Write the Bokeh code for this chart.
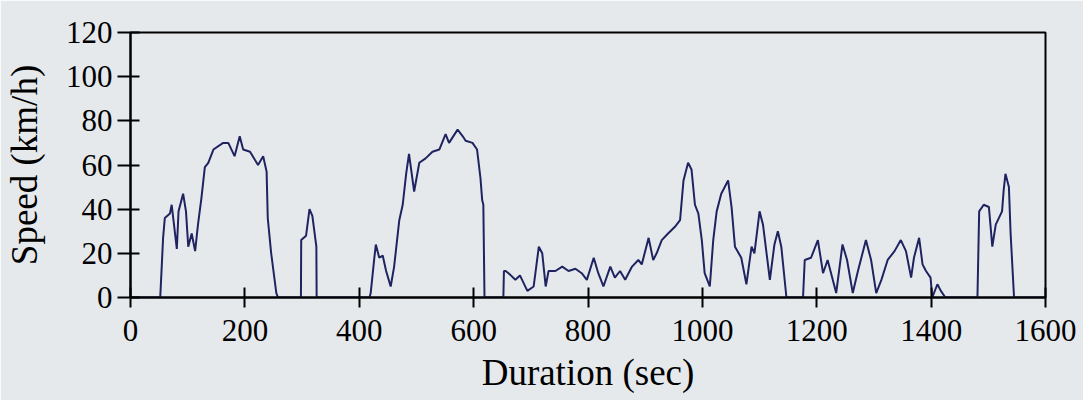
from bokeh.plotting import figure
from bokeh.embed import file_html
from bokeh.resources import INLINE
from bokeh.models import FixedTicker, ColumnDataSource

time_s = [0, 52, 57, 60, 69, 72, 81, 84, 92, 97, 101, 107, 113, 118, 124, 130, 136, 145, 162, 171,
          182, 191, 197, 209, 223, 232, 238, 240, 246, 255, 258,
          298, 298.5, 307, 313, 318, 325, 325.5,
          418, 420, 426, 429, 435, 441, 447, 455, 461, 470, 476, 482, 487, 496, 505, 516, 528, 540,
          551, 557, 572, 581, 586, 598, 606, 612, 615, 617, 619,
          652, 653, 656, 661, 673, 681, 694, 705, 714, 720, 726, 731, 743, 755, 766, 778, 789, 798,
          810, 818, 827, 839, 847, 856, 865, 877, 888, 894, 906, 914, 920, 929, 940, 952, 961, 967,
          975, 981, 987, 993, 999, 1004, 1013, 1019, 1025, 1033, 1045, 1051, 1057, 1068, 1077, 1086,
          1091, 1100, 1106, 1118, 1126, 1132, 1138, 1147,
          1176, 1179, 1190, 1202, 1211, 1219, 1234, 1245, 1253, 1263, 1272, 1286, 1295, 1304, 1313,
          1324, 1336, 1347, 1356, 1365, 1370, 1379, 1385, 1391, 1399, 1402, 1411, 1417, 1425,
          1481, 1484, 1492, 1501, 1507, 1513, 1524, 1527, 1530, 1536, 1539, 1545, 1600]
speed_kmh = [0, 0, 27, 36, 38, 42, 22, 39, 47, 39, 23, 29, 21, 33, 45, 59, 61, 67, 70, 70,
             64, 73, 67, 66, 60, 64, 57, 36, 20, 2, 0,
             0, 26, 28, 40, 37, 23, 0,
             0, 2, 17, 24, 18, 19, 12, 5, 14, 35, 42, 56, 65, 48, 61, 63, 66, 67,
             74, 70, 76, 73, 71, 70, 67, 54, 44, 42, 0,
             0, 12, 12, 11, 8, 10, 3, 5, 23, 20, 5, 12, 12, 14, 12, 13, 11, 8,
             18, 11, 5, 14, 9, 12, 8, 14, 17, 15, 27, 17, 20, 26, 29, 32, 35, 53,
             61, 58, 42, 38, 26, 11, 5, 26, 39, 47, 53, 41, 23, 18, 6, 23,
             20, 39, 33, 8, 24, 30, 23, 0,
             0, 17, 18, 26, 11, 17, 2, 24, 17, 2, 12, 26, 17, 2, 8,
             17, 21, 26, 21, 9, 18, 27, 15, 12, 9, 0, 6, 3, 0,
             0, 39, 42, 41, 23, 33, 39, 49, 56, 50, 29, 0, 0]

x_ticks = [0, 200, 400, 600, 800, 1000, 1200, 1400, 1600]
y_ticks = [0, 20, 40, 60, 80, 100, 120]

BG = "#e6e9ec"
FONT = "Liberation Serif"

src = ColumnDataSource(data=dict(t=time_s, v=speed_kmh))

p = figure(width=1083, height=400, x_range=(0, 1600), y_range=(0, 120),
           output_backend="svg", toolbar_location=None,
           min_border_left=127, min_border_right=38, min_border_top=32, min_border_bottom=103)
p.background_fill_color = BG
p.border_fill_color = BG
p.outline_line_color = "black"
p.outline_line_width = 2
p.grid.visible = False

p.line("t", "v", source=src, line_color="#1f2460", line_width=2)

p.xaxis.ticker = FixedTicker(ticks=x_ticks)
p.yaxis.ticker = FixedTicker(ticks=y_ticks)
for ax in (p.xaxis[0], p.yaxis[0]):
    ax.axis_line_color = "black"
    ax.axis_line_width = 2
    ax.major_tick_line_color = "black"
    ax.major_tick_line_width = 2
    ax.minor_tick_line_color = None
    ax.major_label_text_font = FONT
    ax.major_label_text_font_size = "31px"
    ax.major_label_text_color = "black"
    ax.axis_label_text_font = FONT
    ax.axis_label_text_font_size = "37px"
    ax.axis_label_text_font_style = "normal"
    ax.axis_label_text_color = "black"

p.xaxis.axis_label = "Duration (sec)"
p.yaxis.axis_label = "Speed (km/h)"
p.xaxis.major_tick_in = 10
p.xaxis.major_tick_out = 10
p.yaxis.major_tick_in = 9
p.yaxis.major_tick_out = 13
p.xaxis.major_label_standoff = 12
p.yaxis.major_label_standoff = 5
p.xaxis.axis_label_standoff = 8
p.yaxis.axis_label_standoff = 18

html = file_html(p, INLINE)
html = html.replace("<body>", '<body style="background:%s">' % BG, 1)
open("out.html", "w").write(html)
